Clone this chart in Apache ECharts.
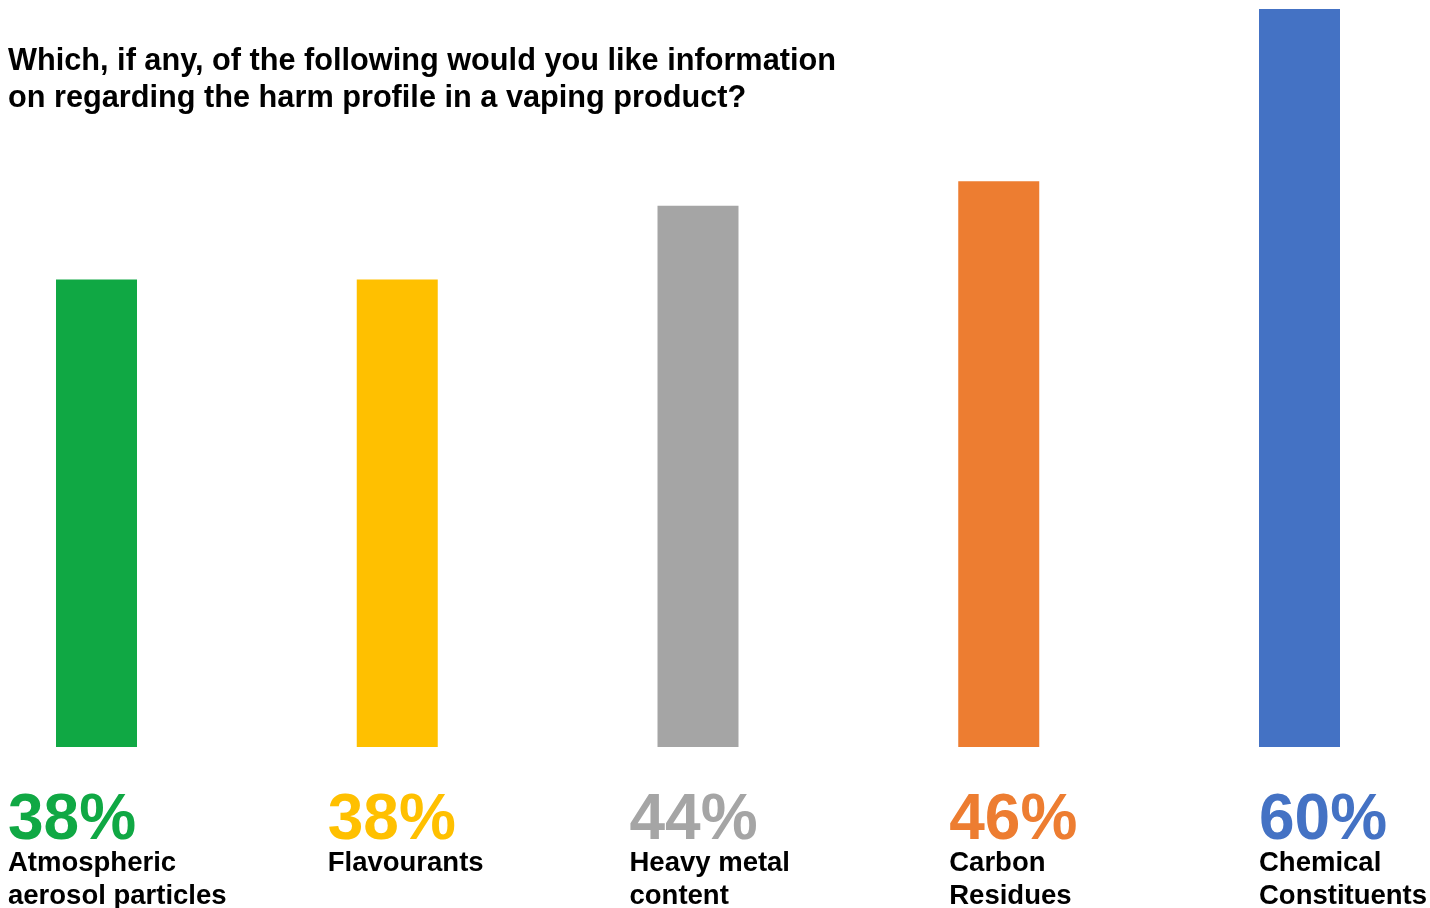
<!DOCTYPE html>
<html>
<head>
<meta charset="utf-8">
<script src="https://cdn.jsdelivr.net/npm/echarts@6/dist/echarts.min.js"></script>
<style>
  html, body { margin: 0; padding: 0; background: #ffffff; }
  #chart { width: 1430px; height: 908px; }
</style>
</head>
<body>
<div id="chart"></div>
<script>
// Survey answers: share of respondents wanting each kind of harm information
const categories = ['Atmospheric\naerosol particles', 'Flavourants', 'Heavy metal\ncontent', 'Carbon\nResidues', 'Chemical\nConstituents'];
const values = [38, 38, 44, 46, 60];
const colors = ['#10A844', '#FFC000', '#A5A5A5', '#ED7D31', '#4472C4'];
// horizontal shift of each label block relative to its bar's left edge
const labelShift = [-48, -29, -28, -9, 0];

const chart = echarts.init(document.getElementById('chart'), null, { renderer: 'canvas' });

const FONT = '"Liberation Sans", Arial, Helvetica, sans-serif';

chart.setOption({
  backgroundColor: '#ffffff',
  animation: false,
  graphic: [{
    type: 'text',
    left: 8,
    top: 43,
    style: {
      text: 'Which, if any, of the following would you like information\non regarding the harm profile in a vaping product?',
      font: 'bold 30.7px ' + FONT,
      lineHeight: 37,
      fill: '#000000'
    }
  }],
  grid: { left: 96.5, right: 130.5, top: 9, bottom: 161, containLabel: false },
  xAxis: {
    type: 'category',
    data: categories,
    boundaryGap: false,
    axisLine: { show: false },
    axisTick: { show: false },
    axisLabel: { show: false },
    splitLine: { show: false }
  },
  yAxis: {
    type: 'value',
    min: 0,
    max: 60,
    show: false
  },
  series: [{
    type: 'bar',
    barWidth: 81,
    data: values.map((v, i) => ({
      value: v,
      itemStyle: { color: colors[i] },
      label: {
        show: true,
        position: [0, '100%'],
        offset: [labelShift[i], 48],
        align: 'left',
        verticalAlign: 'top',
        formatter: () => '{p|' + v + '%}\n{n|' + categories[i] + '}',
        rich: {
          p: { fontFamily: FONT, fontWeight: 'bold', fontSize: 64, lineHeight: 52, color: colors[i] },
          n: { fontFamily: FONT, fontWeight: 'bold', fontSize: 27.5, lineHeight: 33, color: '#000000' }
        }
      }
    }))
  }]
});
</script>
</body>
</html>
